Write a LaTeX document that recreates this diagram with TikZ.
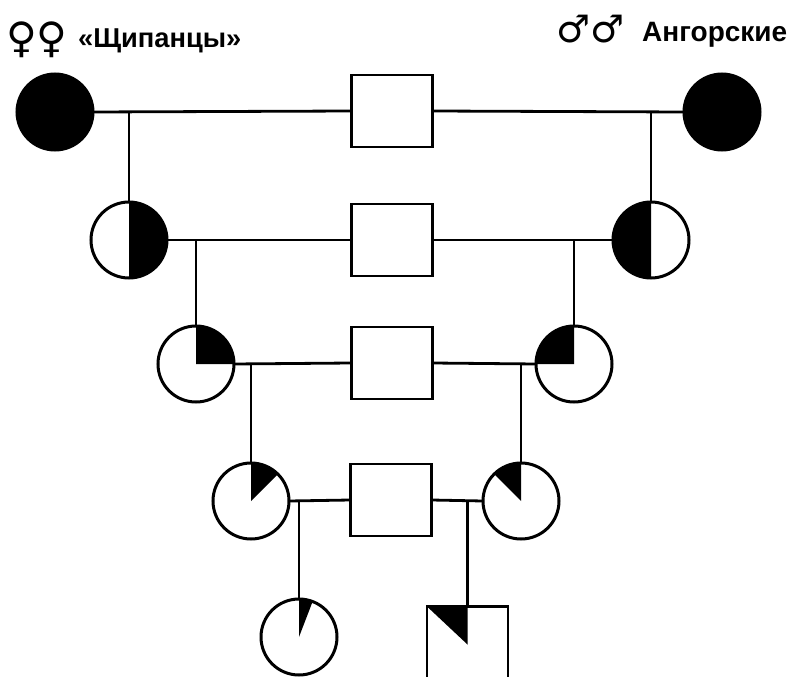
\documentclass[tikz,border=0pt]{standalone}
\usepackage{fontspec}
\setmainfont{Liberation Sans}
\newfontfamily\symfont{DejaVu Sans}
\begin{document}
\begin{tikzpicture}[x=1pt,y=1pt,
  ind/.style={circle,draw,line width=3pt,minimum size=76pt,inner sep=0pt,outer sep=0pt},
  sq/.style={rectangle,draw,line width=2.8pt,minimum width=81pt,minimum height=72pt,inner sep=0pt,outer sep=0pt},
  part/.style 2 args={path picture={\fill (path picture bounding box.center) -- ++(#1:60pt)
      arc[start angle=#1,end angle=#2,radius=60pt] -- cycle;}},
  link/.style={line width=2.8pt},
  lab/.style={inner sep=0pt,anchor=base west}]
\useasboundingbox (0,0) rectangle (796,-677);
\clip (0,0) rectangle (796,-677);

% headings
\node[lab,font=\symfont\fontsize{42}{44}\selectfont] (fsym) at (6,-53) {♀♀};
\node[lab,font=\bfseries\fontsize{27.3}{30}\selectfont] (ftxt) at (78,-48) {«Щипанцы»};
\node[lab,font=\symfont\fontsize{38}{40}\selectfont] (msym) at (556,-43) {♂♂};
\node[lab,font=\bfseries\fontsize{28}{30}\selectfont] (mtxt) at (642,-42) {Ангорские};

% generation 1
\node[ind,fill=black] (L1) at (55,-112) {};
\node[ind,fill=black] (R1) at (722,-112) {};
\node[sq] (S1) at (392,-111) {};
% generation 2
\node[ind,part={-90}{90}] (L2) at (129,-240) {};
\node[ind,part={90}{270}] (R2) at (651,-240) {};
\node[sq] (S2) at (392,-240) {};
% generation 3
\node[ind,part={0}{90}] (L3) at (196,-364) {};
\node[ind,part={90}{180}] (R3) at (574,-364) {};
\node[sq] (S3) at (392,-363) {};
% generation 4
\node[ind,part={45}{90}] (L4) at (251,-501) {};
\node[ind,part={90}{135}] (R4) at (521,-501) {};
\node[sq] (S4) at (391,-500) {};
% generation 5
\node[ind,part={69}{90}] (C5) at (299,-637) {};
\node[sq,minimum height=80pt] (Q5) at (467.5,-646.5) {};
\fill (Q5.north west) -- (Q5.north) -- ([yshift=-38pt]Q5.north) -- cycle;

% mating lines
\foreach \a/\s/\b in {L1/S1/R1,L2/S2/R2,L3/S3/R3,L4/S4/R4}{
  \draw[link] (\a.east) -- (\s.west);
  \draw[link] (\s.east) -- (\b.west);
}
% descent lines
\draw[link] (L2.north) -- (L2.north |- L1.east);
\draw[link] (R2.north) -- (R2.north |- R1.west);
\draw[link] (L3.north) -- (L3.north |- L2.east);
\draw[link] (R3.north) -- (R3.north |- R2.west);
\draw[link] (L4.north) -- (L4.north |- L3.east);
\draw[link] (R4.north) -- (R4.north |- R3.west);
\draw[link] (C5.north) -- (C5.north |- L4.east);
\draw[link] (Q5.north) -- (Q5.north |- R4.west);
\end{tikzpicture}
\end{document}
